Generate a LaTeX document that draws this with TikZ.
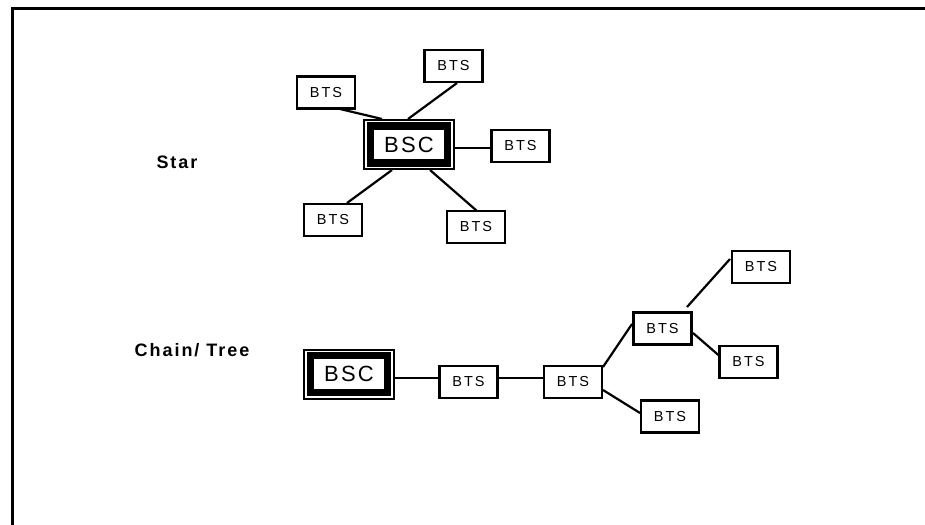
\documentclass[tikz,border=0pt]{standalone}
\usepackage{fontspec}
\setmainfont{Liberation Sans}
\usetikzlibrary{calc}
\begin{document}
\begin{tikzpicture}[x=1pt,y=-1pt,
  bts/.style={draw, line width=2.2pt, minimum width=58pt, minimum height=32pt, inner sep=0pt,
    font=\fontsize{14.5}{14.5}\selectfont\addfontfeature{LetterSpace=14}},
  bsc/.style={draw, line width=2pt, minimum width=90pt, minimum height=49pt, inner sep=0pt,
    font=\fontsize{22}{22}\selectfont\addfontfeature{LetterSpace=10}},
  bscinner/.style={line width=7.5pt},
  conn/.style={line width=2.2pt},
  frameline/.style={line width=3pt},
  lbl/.style={font=\fontsize{18}{18}\selectfont\bfseries\addfontfeature{LetterSpace=11}}]
\useasboundingbox (0,0) rectangle (925,524);
% frame
\coordinate (fa) at (12,530);
\coordinate (fb) at (12,9);
\coordinate (fc) at (930,9);
\draw[frameline] (fa) -- (fb) -- (fc);
% labels
\node[lbl] (star) at (177,162) {Star};
\node[lbl] (chain) at (192,350.5) {Chain/ Tree};
% star topology
\node[bsc] (bsc1) at (409,144.5) {BSC};
\draw[bscinner] ($(bsc1.north west)+(7.4,7)$) rectangle ($(bsc1.south east)+(-7.4,-7)$);
\node[bts] (ta) at (326,92.5) {BTS};
\node[bts] (tb) at (453.5,66) {BTS};
\node[bts] (tc) at (520.5,146) {BTS};
\node[bts] (td) at (333,220) {BTS};
\node[bts] (te) at (476,227) {BTS};
\draw[conn] ($(ta)+(14,16.5)$) -- ($(bsc1)+(-27,-25.5)$);
\draw[conn] ($(tb)+(3.5,17)$) -- ($(bsc1)+(-1,-25.5)$);
\draw[conn] ($(bsc1)+(44,3.5)$) -- ($(tc)+(-30,2)$);
\draw[conn] ($(bsc1)+(-17,25.5)$) -- ($(td)+(14,-17)$);
\draw[conn] ($(bsc1)+(21,25.5)$) -- ($(te)+(1,-16)$);
% chain / tree
\node[bsc] (bsc2) at (349,374) {BSC};
\draw[bscinner] ($(bsc2.north west)+(7.4,7)$) rectangle ($(bsc2.south east)+(-7.4,-7)$);
\node[bts] (c1) at (468.5,382) {BTS};
\node[bts] (c2) at (573,382) {BTS};
\node[bts] (c3) at (662.5,328.5) {BTS};
\node[bts] (c4) at (761,267) {BTS};
\node[bts] (c5) at (748.5,362) {BTS};
\node[bts] (c6) at (670,416.5) {BTS};
\draw[conn] ($(bsc2)+(46,4)$) -- ($(c1)+(-30,-4)$);
\draw[conn] ($(c1)+(30,-4)$) -- ($(c2)+(-30,-4)$);
\draw[conn] ($(c2)+(30,-15)$) -- ($(c3)+(-30.5,-4.5)$);
\draw[conn] ($(c2)+(30,8)$) -- ($(c6)+(-30,-3.5)$);
\draw[conn] ($(c3)+(24.5,-21.5)$) -- ($(c4)+(-31,-8)$);
\draw[conn] ($(c3)+(30.5,4.5)$) -- ($(c5)+(-29,-6)$);
\end{tikzpicture}
\end{document}
